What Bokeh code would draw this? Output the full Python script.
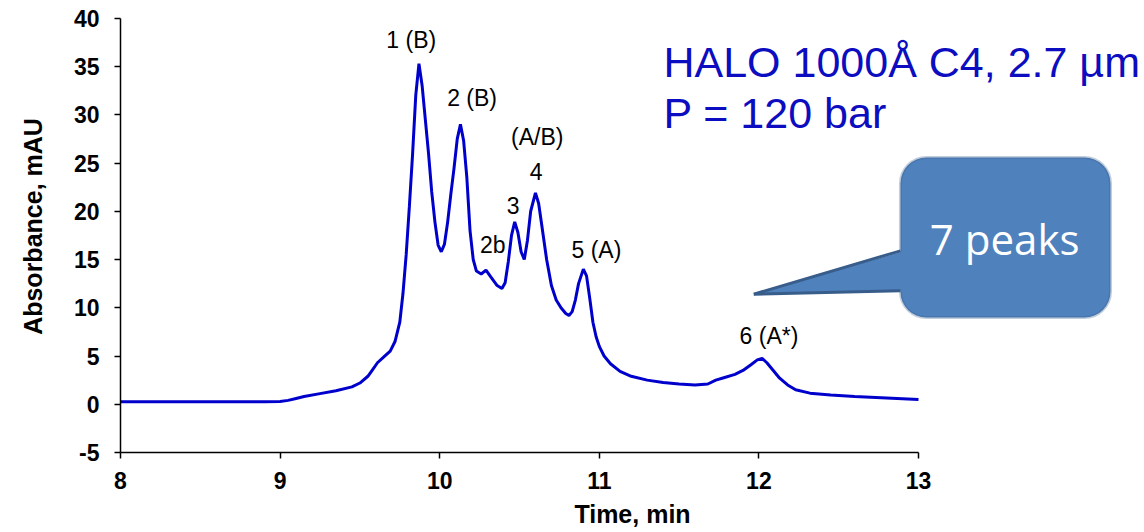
from bokeh.plotting import figure
from bokeh.models import (ColumnDataSource, Range1d, FixedTicker, Label, BoxAnnotation)
from bokeh.core.properties import value
from bokeh.embed import file_html
from bokeh.resources import INLINE

# ---------------- data ----------------
time_min = [8.00, 8.50, 8.90, 9.00, 9.05, 9.10, 9.15, 9.25, 9.35, 9.45, 9.50, 9.55, 9.58,
            9.61, 9.65, 9.69, 9.72, 9.75, 9.77, 9.79, 9.81, 9.83, 9.85, 9.87, 9.89, 9.91,
            9.93, 9.95, 9.97, 9.99, 10.01, 10.03, 10.05, 10.07, 10.09, 10.11, 10.13, 10.15,
            10.17, 10.19, 10.21, 10.23, 10.26, 10.29, 10.32, 10.36, 10.39, 10.41, 10.43,
            10.45, 10.47, 10.49, 10.51, 10.53, 10.55, 10.57, 10.60, 10.62, 10.64, 10.67,
            10.70, 10.73, 10.76, 10.79, 10.81, 10.83, 10.85, 10.87, 10.90, 10.92, 10.94,
            10.96, 10.98, 11.00, 11.03, 11.07, 11.13, 11.20, 11.30, 11.40, 11.50, 11.60,
            11.68, 11.73, 11.78, 11.85, 11.90, 11.95, 11.99, 12.02, 12.05, 12.09, 12.13,
            12.18, 12.23, 12.32, 12.45, 12.60, 12.80, 13.00]
absorbance = [0.25, 0.25, 0.25, 0.28, 0.4, 0.6, 0.8, 1.1, 1.4, 1.8, 2.2, 2.9, 3.6,
              4.3, 4.9, 5.5, 6.5, 8.5, 11.5, 15.5, 20.5, 25.9, 32.0, 35.3, 33.0, 29.5,
              26.0, 22.0, 18.9, 16.5, 15.8, 16.6, 18.9, 21.8, 24.5, 27.5, 29.0, 27.3,
              23.5, 18.0, 15.0, 13.8, 13.5, 13.9, 13.2, 12.3, 12.0, 12.6, 14.8,
              17.5, 18.9, 17.8, 15.8, 15.0, 17.0, 20.0, 21.9, 20.8, 18.5, 15.0,
              12.3, 10.8, 10.0, 9.4, 9.2, 9.6, 10.8, 12.5, 14.0, 13.3, 11.0,
              8.5, 7.0, 6.0, 5.0, 4.2, 3.4, 2.9, 2.5, 2.25, 2.1, 2.0,
              2.1, 2.5, 2.75, 3.1, 3.5, 4.1, 4.6, 4.75, 4.3, 3.5, 2.7,
              2.0, 1.5, 1.15, 0.95, 0.8, 0.65, 0.5]

peak_labels = ["1 (B)", "2 (B)", "(A/B)", "4", "3", "2b", "5 (A)", "6 (A*)"]
peak_label_t = [9.822, 10.203, 10.611, 10.604, 10.46, 10.333, 10.982, 12.063]
peak_label_v = [36.9, 30.9, 26.9, 23.3, 19.8, 15.7, 15.1, 6.2]

x_ticks = [8, 9, 10, 11, 12, 13]
x_tick_labels = ["8", "9", "10", "11", "12", "13"]
y_ticks = [-5, 0, 5, 10, 15, 20, 25, 30, 35, 40]
y_tick_labels = ["-5", "0", "5", "10", "15", "20", "25", "30", "35", "40"]

title_lines = ["HALO 1000Å C4, 2.7 µm", "P = 120 bar"]
callout_text = "7 peaks"

# ---------------- figure ----------------
PX_PER_MIN = 159.6
PX_PER_UNIT = 9.65
W, H = 1144, 532
LEFT, BOTTOM = 120, 80
frame_w = W - LEFT
frame_h = H - BOTTOM

def lift(font_px):
    # baseline correction (in data units) for the svg text baseline
    return 0.35 * font_px / PX_PER_UNIT

p = figure(width=W, height=H, output_backend="svg", toolbar_location=None,
           x_range=Range1d(8, 8 + frame_w / PX_PER_MIN),
           y_range=Range1d(-5, -5 + frame_h / PX_PER_UNIT),
           min_border_left=LEFT, min_border_right=0, min_border_top=0,
           min_border_bottom=BOTTOM)
p.background_fill_color = "white"
p.border_fill_color = "white"
p.outline_line_color = None
p.grid.visible = False

font = "Liberation Sans"
for ax, ticks, labs, bounds in ((p.xaxis[0], x_ticks, x_tick_labels, (8, 13)),
                                (p.yaxis[0], y_ticks, y_tick_labels, (-5, 40))):
    ax.ticker = FixedTicker(ticks=ticks)
    ax.major_label_overrides = {t: l for t, l in zip(ticks, labs)}
    ax.bounds = bounds
    ax.axis_line_color = "black"
    ax.axis_line_width = 1.5
    ax.major_tick_line_color = "black"
    ax.major_tick_line_width = 1.5
    ax.major_tick_out = 6
    ax.major_tick_in = 0
    ax.minor_tick_line_color = None
    ax.major_label_text_font = font
    ax.major_label_text_font_style = "bold"
    ax.major_label_text_font_size = "23px"
    ax.major_label_text_color = "black"
    ax.axis_label_text_font = font
    ax.axis_label_text_font_style = "bold"
    ax.axis_label_text_font_size = "25px"
    ax.axis_label_text_color = "black"

p.xaxis[0].axis_label = "Time, min"
p.yaxis[0].axis_label = "Absorbance, mAU"
p.xaxis[0].major_label_standoff = 13
p.xaxis[0].axis_label_standoff = 8
p.yaxis[0].major_label_standoff = 15
p.yaxis[0].axis_label_standoff = 24

# chromatogram
src = ColumnDataSource(data=dict(t=time_min, a=absorbance))
p.line("t", "a", source=src, line_color="#0000CC", line_width=3)

# peak labels
LBL_PX = 23
lab_src = ColumnDataSource(data=dict(t=peak_label_t,
                                     v=[v + lift(LBL_PX) for v in peak_label_v],
                                     s=peak_labels))
p.text("t", "v", text="s", source=lab_src, text_font=value(font),
       text_font_size=f"{LBL_PX}px", text_color="black", text_align="center",
       text_baseline="alphabetic")

# title text
TITLE_PX = 43
for i, line in enumerate(title_lines):
    p.add_layout(Label(x=11.402, y=33.86 - i * 5.25 + lift(TITLE_PX), text=line,
                       text_font=font, text_font_size=f"{TITLE_PX}px",
                       text_color="#0C0CC0", text_align="left",
                       text_baseline="alphabetic"))

# callout box
box_l, box_r, box_t, box_b = 12.887, 14.203, 25.57, 8.98
p.add_layout(BoxAnnotation(left=box_l, right=box_r, top=box_t, bottom=box_b,
                           fill_color="#4F81BD", fill_alpha=1.0,
                           line_color="#385D8A", line_width=3, border_radius=26,
                           level="annotation"))
tip = (11.968, 11.41)
j_up = (box_l, 15.9)
j_lo = (box_l, 11.75)
p.patch([tip[0], j_up[0] + 0.03, j_lo[0] + 0.03], [tip[1], j_up[1], j_lo[1]],
        fill_color="#4F81BD", line_color=None, level="overlay")
p.multi_line([[tip[0], j_up[0]], [tip[0], j_lo[0]]], [[tip[1], j_up[1]], [tip[1], j_lo[1]]],
             line_color="#385D8A", line_width=3, line_join="round", level="overlay")
CALL_PX = 42
p.text([13.54], [15.7 + lift(CALL_PX)], text=[callout_text], text_font=value("Open Sans"),
       text_font_size=f"{CALL_PX}px", text_color="white", text_align="center",
       text_baseline="alphabetic", level="overlay")

open("out.html", "w").write(file_html(p, INLINE))
